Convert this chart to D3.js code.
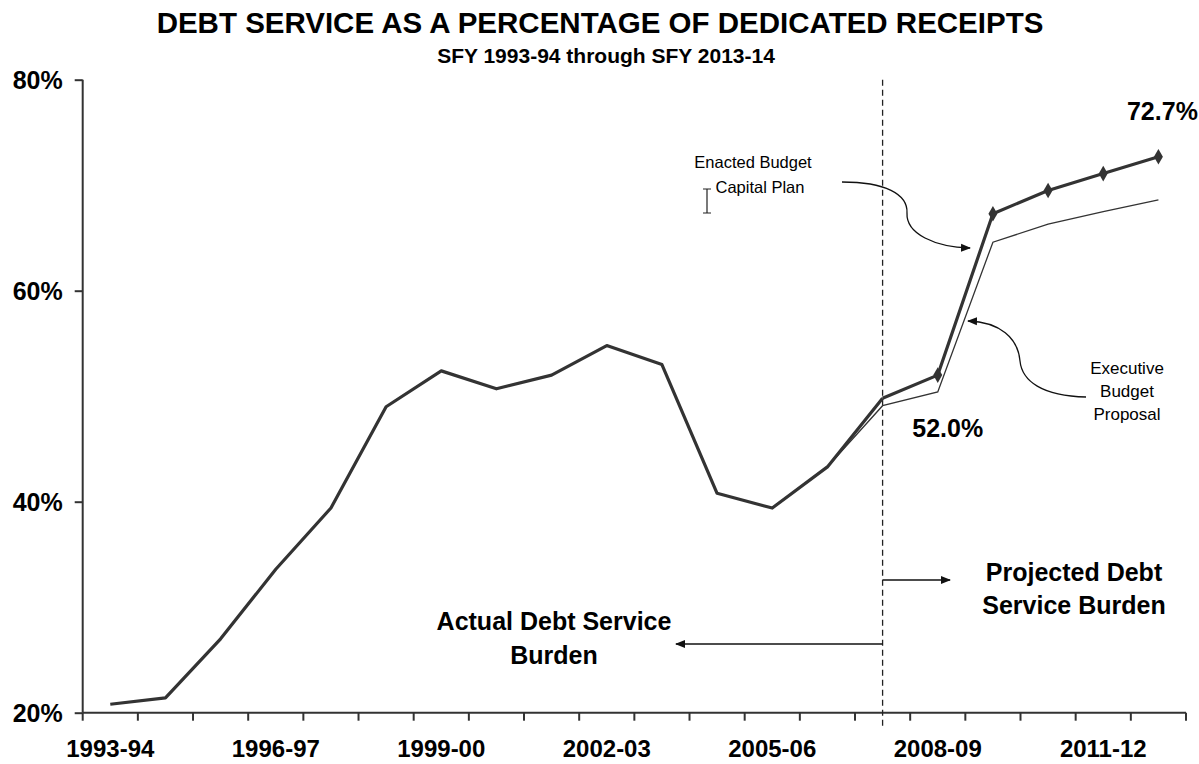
<!DOCTYPE html>
<html>
<head>
<meta charset="utf-8">
<script src="https://d3js.org/d3.v7.min.js"></script>
<style>
  body { margin: 0; background: #fff; }
  svg text { font-family: "Liberation Sans", Arial, sans-serif; fill: #000; }
</style>
</head>
<body>
<div id="chart"></div>
<script>
// fiscal years on the x axis
var years = ["1993-94", "1994-95", "1995-96", "1996-97", "1997-98", "1998-99", "1999-00",
  "2000-01", "2001-02", "2002-03", "2003-04", "2004-05", "2005-06", "2006-07", "2007-08",
  "2008-09", "2009-10", "2010-11", "2011-12", "2012-13"];
var tickYears = ["1993-94", "1996-97", "1999-00", "2002-03", "2005-06", "2008-09", "2011-12"];

// actual debt service burden (percent)
var actualYears = years.slice(0, 15);
var actual = [20.8, 21.4, 27.0, 33.6, 39.4, 49.0, 52.4, 50.7, 52.0, 54.8, 53.0, 40.8, 39.4, 43.3, 49.8];

// projections
var enactedYears = ["2007-08", "2008-09", "2009-10", "2010-11", "2011-12", "2012-13"];
var enacted = [49.8, 52.0, 67.3, 69.5, 71.1, 72.7];
var executiveYears = ["2006-07", "2007-08", "2008-09", "2009-10", "2010-11", "2011-12", "2012-13"];
var executive = [43.3, 49.1, 50.4, 64.6, 66.3, 67.5, 68.6];

var yTicks = [20, 40, 60, 80];

(function() {
  var width = 1199, height = 764;
  var mLeft = 82.7, mRight = 1186, mTop = 79.7, mBottom = 712.7;

  var svg = d3.select("#chart").append("svg")
    .attr("width", width)
    .attr("height", height);

  var defs = svg.append("defs");
  defs.append("marker")
    .attr("id", "arrow")
    .attr("viewBox", "0 0 10 10")
    .attr("refX", 9).attr("refY", 5)
    .attr("markerWidth", 10).attr("markerHeight", 10)
    .attr("markerUnits", "userSpaceOnUse")
    .attr("orient", "auto")
    .append("path")
    .attr("d", "M0,1 L10,5 L0,9 z")
    .attr("fill", "#111");

  var x = d3.scaleBand().domain(years).range([mLeft, mRight]).padding(0);
  var y = d3.scaleLinear().domain([20, 80]).range([mBottom, mTop]);

  function cx(d) { return x(d) + x.bandwidth() / 2; }

  // title
  svg.append("text")
    .attr("x", 600).attr("y", 33)
    .attr("text-anchor", "middle")
    .style("font-size", "29.5px").style("font-weight", "bold")
    .text("DEBT SERVICE AS A PERCENTAGE OF DEDICATED RECEIPTS");
  svg.append("text")
    .attr("x", 606).attr("y", 63)
    .attr("text-anchor", "middle")
    .style("font-size", "21px").style("font-weight", "bold")
    .text("SFY 1993-94 through SFY 2013-14");

  // y axis
  var yAxis = svg.append("g")
    .attr("transform", "translate(" + mLeft + ",0)")
    .call(d3.axisLeft(y).tickValues(yTicks).tickFormat(function(d) { return d + "%"; }).tickSize(8).tickPadding(12));
  yAxis.select(".domain").attr("stroke", "#333").attr("stroke-width", 2).attr("d", "M0," + mTop + "V" + mBottom);
  yAxis.selectAll(".tick line").attr("stroke", "#333").attr("stroke-width", 2);
  yAxis.selectAll(".tick text")
    .style("font-size", "25px").style("font-weight", "bold")
    .attr("dy", "0.36em");

  // x axis: labels at band centres, tick marks at band edges
  var xAxis = svg.append("g")
    .attr("transform", "translate(0," + mBottom + ")")
    .call(d3.axisBottom(x).tickValues(tickYears).tickSize(0).tickPadding(27));
  xAxis.select(".domain").attr("stroke", "#333").attr("stroke-width", 2).attr("d", "M" + mLeft + ",0H" + mRight);
  xAxis.selectAll(".tick text")
    .style("font-size", "24px").style("font-weight", "bold");

  var edges = years.map(function(d) { return x(d); }).concat([mRight]);
  xAxis.selectAll(".edge")
    .data(edges).enter().append("line")
    .attr("class", "edge")
    .attr("x1", function(d) { return d; }).attr("x2", function(d) { return d; })
    .attr("y1", 0).attr("y2", 8)
    .attr("stroke", "#333").attr("stroke-width", 2);

  // dashed divider between actual and projected
  var divX = cx("2007-08");
  svg.append("line")
    .attr("x1", divX).attr("x2", divX)
    .attr("y1", mTop).attr("y2", mBottom + 14)
    .attr("stroke", "#222").attr("stroke-width", 1.3)
    .attr("stroke-dasharray", "6,4");

  var line = d3.line()
    .x(function(d) { return cx(d[0]); })
    .y(function(d) { return y(d[1]); });

  // executive budget proposal (thin)
  svg.append("path")
    .datum(d3.zip(executiveYears, executive))
    .attr("d", line)
    .attr("fill", "none").attr("stroke", "#333").attr("stroke-width", 1.3);

  // actual + enacted (thick)
  svg.append("path")
    .datum(d3.zip(actualYears, actual))
    .attr("d", line)
    .attr("fill", "none").attr("stroke", "#333").attr("stroke-width", 3.2)
    .attr("stroke-linejoin", "round");
  svg.append("path")
    .datum(d3.zip(enactedYears, enacted))
    .attr("d", line)
    .attr("fill", "none").attr("stroke", "#333").attr("stroke-width", 3.2)
    .attr("stroke-linejoin", "round");

  svg.selectAll(".diamond")
    .data(d3.zip(enactedYears, enacted).slice(1))
    .enter().append("path")
    .attr("class", "diamond")
    .attr("d", d3.symbol().type(d3.symbolDiamond).size(70))
    .attr("transform", function(d) { return "translate(" + cx(d[0]) + "," + y(d[1]) + ")"; })
    .attr("fill", "#333");

  // value labels
  svg.append("text")
    .attr("x", cx("2012-13") + 4).attr("y", y(72.7) - 37)
    .attr("text-anchor", "middle")
    .style("font-size", "25px").style("font-weight", "bold")
    .text("72.7%");
  svg.append("text")
    .attr("x", cx("2008-09") + 10).attr("y", y(52.0) + 62)
    .attr("text-anchor", "middle")
    .style("font-size", "25px").style("font-weight", "bold")
    .text("52.0%");

  // enacted budget callout
  var enact = svg.append("text")
    .attr("text-anchor", "middle")
    .style("font-size", "16.5px");
  enact.append("tspan").attr("x", 753).attr("y", 168).text("Enacted Budget");
  enact.append("tspan").attr("x", 760).attr("y", 193).text("Capital Plan");
  svg.append("path")
    .attr("d", "M842,182 C885,182 908,194 907,213 C906,234 935,247 970,248")
    .attr("fill", "none").attr("stroke", "#111").attr("stroke-width", 1.3)
    .attr("marker-end", "url(#arrow)");

  // text cursor left on the slide
  svg.append("path")
    .attr("d", "M707,189V213 M703,189H711 M703,213H711")
    .attr("fill", "none").attr("stroke", "#222").attr("stroke-width", 1.2);

  // executive budget callout
  var exec = svg.append("text")
    .attr("text-anchor", "middle")
    .style("font-size", "17px");
  exec.append("tspan").attr("x", 1127).attr("y", 374).text("Executive");
  exec.append("tspan").attr("x", 1127).attr("y", 397).text("Budget");
  exec.append("tspan").attr("x", 1127).attr("y", 420).text("Proposal");
  svg.append("path")
    .attr("d", "M1086,397 C1042,396 1022,381 1020,361 C1018,338 1000,322 968,321")
    .attr("fill", "none").attr("stroke", "#111").attr("stroke-width", 1.3)
    .attr("marker-end", "url(#arrow)");

  // actual / projected region notes
  var proj = svg.append("text")
    .attr("text-anchor", "middle")
    .style("font-size", "25px").style("font-weight", "bold");
  proj.append("tspan").attr("x", 1074).attr("y", 581).text("Projected Debt");
  proj.append("tspan").attr("x", 1074).attr("y", 614).text("Service Burden");
  svg.append("line")
    .attr("x1", divX).attr("x2", 950).attr("y1", 580).attr("y2", 580)
    .attr("stroke", "#111").attr("stroke-width", 1.3)
    .attr("marker-end", "url(#arrow)");

  var act = svg.append("text")
    .attr("text-anchor", "middle")
    .style("font-size", "25px").style("font-weight", "bold");
  act.append("tspan").attr("x", 554).attr("y", 630).text("Actual Debt Service");
  act.append("tspan").attr("x", 554).attr("y", 664).text("Burden");
  svg.append("line")
    .attr("x1", divX).attr("x2", 676).attr("y1", 644).attr("y2", 644)
    .attr("stroke", "#111").attr("stroke-width", 1.3)
    .attr("marker-end", "url(#arrow)");
})();
</script>
</body>
</html>
